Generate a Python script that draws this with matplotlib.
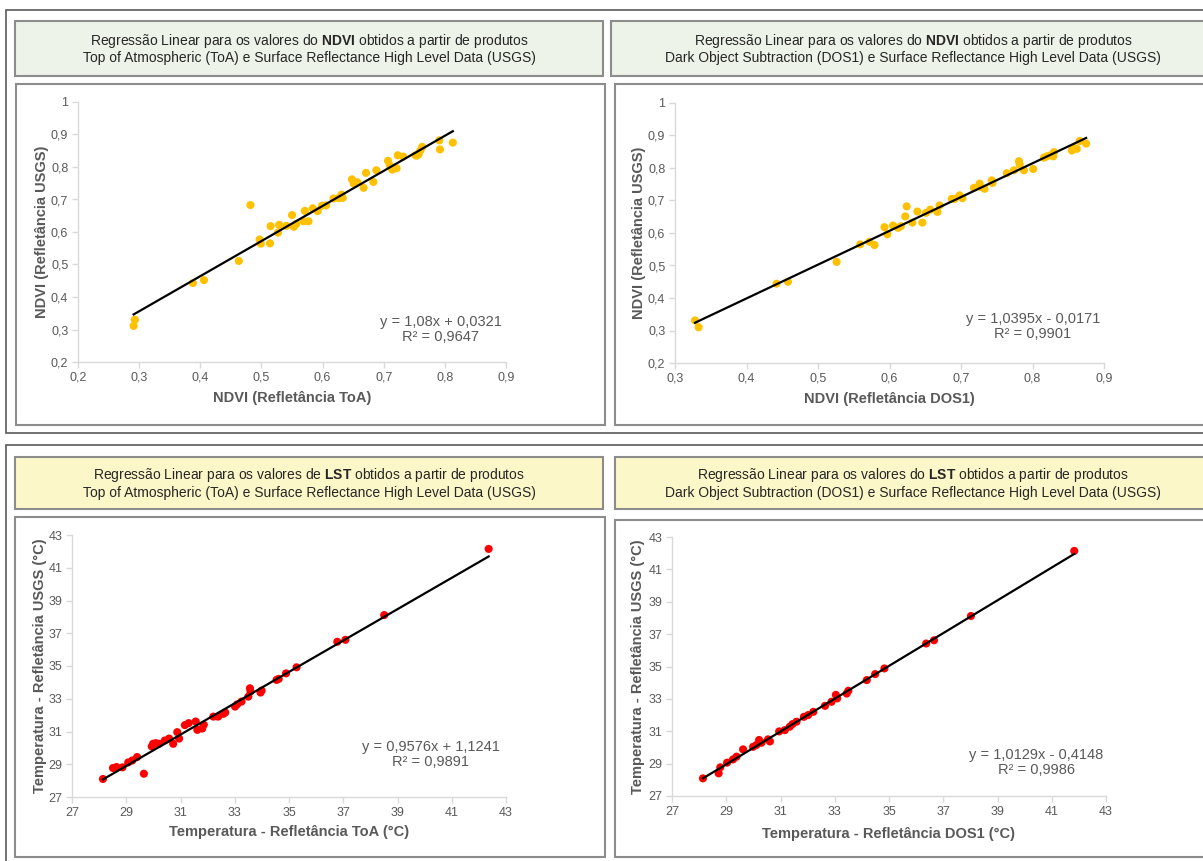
import numpy as np
import matplotlib
matplotlib.use('Agg')
import matplotlib.pyplot as plt
from matplotlib.patches import Rectangle
from matplotlib.ticker import FuncFormatter
from matplotlib import font_manager

# DATA
## NDVI ToA x USGS
ndvi_toa_x = [0.291, 0.293, 0.388, 0.406, 0.463, 0.482, 0.497, 0.499, 0.514, 0.515,
              0.527, 0.529, 0.541, 0.550, 0.553, 0.557, 0.569, 0.571, 0.577, 0.584,
              0.592, 0.599, 0.606, 0.618, 0.626, 0.631, 0.633, 0.648, 0.651, 0.657,
              0.667, 0.671, 0.683, 0.688, 0.707, 0.710, 0.714, 0.721, 0.723, 0.732,
              0.752, 0.754, 0.757, 0.760, 0.763, 0.791, 0.792, 0.813]
ndvi_toa_y = [0.311, 0.330, 0.443, 0.452, 0.511, 0.683, 0.577, 0.564, 0.565, 0.618,
              0.598, 0.622, 0.619, 0.652, 0.616, 0.625, 0.633, 0.665, 0.633, 0.673,
              0.664, 0.681, 0.682, 0.703, 0.704, 0.715, 0.705, 0.762, 0.749, 0.753,
              0.736, 0.782, 0.754, 0.790, 0.819, 0.805, 0.792, 0.796, 0.836, 0.832,
              0.836, 0.835, 0.839, 0.851, 0.862, 0.882, 0.854, 0.875]
ndvi_toa_fit = (1.08, 0.0321)
ndvi_toa_eq = 'y = 1,08x + 0,0321\nR² = 0,9647'

## NDVI DOS1 x USGS
ndvi_dos_x = [0.328, 0.333, 0.442, 0.458, 0.526, 0.559, 0.572, 0.579, 0.593, 0.597,
              0.605, 0.612, 0.616, 0.622, 0.624, 0.632, 0.639, 0.646, 0.651, 0.657,
              0.667, 0.670, 0.687, 0.691, 0.698, 0.702, 0.718, 0.726, 0.727, 0.733,
              0.743, 0.744, 0.764, 0.774, 0.781, 0.782, 0.788, 0.801, 0.816, 0.820,
              0.825, 0.829, 0.830, 0.855, 0.858, 0.862, 0.866, 0.875]
ndvi_dos_y = [0.331, 0.310, 0.444, 0.450, 0.511, 0.565, 0.573, 0.563, 0.618, 0.596,
              0.623, 0.616, 0.621, 0.651, 0.682, 0.632, 0.666, 0.632, 0.662, 0.672,
              0.665, 0.685, 0.705, 0.705, 0.716, 0.707, 0.739, 0.752, 0.742, 0.736,
              0.762, 0.754, 0.784, 0.793, 0.821, 0.811, 0.793, 0.797, 0.832, 0.836,
              0.839, 0.836, 0.849, 0.854, 0.862, 0.859, 0.883, 0.875]
ndvi_dos_fit = (1.0395, -0.0171)
ndvi_dos_eq = 'y = 1,0395x - 0,0171\nR² = 0,9901'

## LST ToA x USGS
lst_toa_x = [28.14, 28.51, 28.64, 28.86, 29.07, 29.22, 29.40, 29.65, 29.94, 29.99,
             30.09, 30.21, 30.42, 30.58, 30.73, 30.88, 30.95, 31.16, 31.30, 31.56,
             31.62, 31.80, 31.86, 32.21, 32.39, 32.58, 32.65, 33.01, 33.09, 33.25,
             33.50, 33.56, 33.58, 33.95, 33.99, 34.54, 34.62, 34.89, 35.28, 36.78,
             37.08, 38.51, 42.36]
lst_toa_y = [28.10, 28.77, 28.83, 28.81, 29.11, 29.23, 29.44, 28.42, 30.09, 30.25,
             30.29, 30.25, 30.45, 30.57, 30.25, 30.96, 30.57, 31.39, 31.51, 31.61,
             31.10, 31.18, 31.41, 31.91, 31.91, 32.08, 32.16, 32.52, 32.66, 32.83,
             33.13, 33.64, 33.44, 33.38, 33.50, 34.15, 34.21, 34.55, 34.92, 36.48,
             36.60, 38.11, 42.15]
lst_toa_fit = (0.9576, 1.1241)
lst_toa_eq = 'y = 0,9576x + 1,1241\nR² = 0,9891'

## LST DOS1 x USGS
lst_dos_x = [28.14, 28.72, 28.78, 29.03, 29.25, 29.38, 29.62, 29.99, 30.11, 30.21,
             30.30, 30.54, 30.61, 30.95, 31.16, 31.34, 31.44, 31.59, 31.86, 32.02,
             32.21, 32.64, 32.88, 33.04, 33.09, 33.44, 33.50, 34.18, 34.49, 34.83,
             36.37, 36.66, 38.02, 41.83]
lst_dos_y = [28.09, 28.40, 28.77, 29.06, 29.26, 29.43, 29.88, 30.04, 30.15, 30.46,
             30.29, 30.50, 30.37, 30.99, 31.07, 31.28, 31.44, 31.59, 31.89, 32.00,
             32.20, 32.57, 32.82, 33.25, 33.03, 33.33, 33.50, 34.16, 34.53, 34.88,
             36.42, 36.62, 38.12, 42.14]
lst_dos_fit = (1.0129, -0.4148)
lst_dos_eq = 'y = 1,0129x - 0,4148\nR² = 0,9986'

## ticks
ndvi_ticks_y = [0.2, 0.3, 0.4, 0.5, 0.6, 0.7, 0.8, 0.9, 1.0]
ndvi_toa_ticks_x = [0.2, 0.3, 0.4, 0.5, 0.6, 0.7, 0.8, 0.9]
ndvi_dos_ticks_x = [0.3, 0.4, 0.5, 0.6, 0.7, 0.8, 0.9]
lst_ticks = [27, 29, 31, 33, 35, 37, 39, 41, 43]

# FONTS
names = set(f.name for f in font_manager.fontManager.ttflist)
narrow = 'Liberation Sans Narrow' if 'Liberation Sans Narrow' in names else 'Liberation Sans'
plt.rcParams['font.family'] = ['Liberation Sans', 'DejaVu Sans']
plt.rcParams['mathtext.fontset'] = 'custom'
plt.rcParams['mathtext.rm'] = 'Liberation Sans'
plt.rcParams['mathtext.bf'] = 'Liberation Sans:bold'

W, H = 1203, 861
fig = plt.figure(figsize=(W / 100, H / 100), dpi=100)
fig.patch.set_facecolor('white')

def box(x0, y0, x1, y1):
    return [x0 / W, 1 - y1 / H, (x1 - x0) / W, (y1 - y0) / H]

def rect(x0, y0, x1, y1, fc, ec, lw, z):
    r = Rectangle((x0 / W, 1 - y1 / H), (x1 - x0) / W, (y1 - y0) / H,
                  transform=fig.transFigure, facecolor=fc, edgecolor=ec, linewidth=lw, zorder=z)
    fig.add_artist(r)

# FRAMES
rect(6, 10, 1215, 433, 'white', '#5a5a5a', 1.2, -5)
rect(6, 445, 1215, 868, 'white', '#5a5a5a', 1.2, -5)
green = '#edf3e8'
yellow = '#fcf7c8'
rect(15, 21, 603, 76, green, '#8c8c8c', 1.5, -4)
rect(611, 21, 1215, 76, green, '#8c8c8c', 1.5, -4)
rect(16, 84, 605, 425, 'white', '#8c8c8c', 1.5, -4)
rect(615, 84, 1215, 425, 'white', '#8c8c8c', 1.5, -4)
rect(15, 457, 603, 509, yellow, '#8c8c8c', 1.5, -4)
rect(615, 457, 1215, 509, yellow, '#8c8c8c', 1.5, -4)
rect(15, 517, 605, 857, 'white', '#8c8c8c', 1.5, -4)
rect(615, 520, 1215, 857, 'white', '#8c8c8c', 1.5, -4)

# TITLES
titles = [
    (309, 48.5, 'Regressão Linear para os valores do $\\mathbf{NDVI}$ obtidos a partir de produtos\nTop of Atmospheric (ToA) e Surface Reflectance High Level Data (USGS)'),
    (913, 48.5, 'Regressão Linear para os valores do $\\mathbf{NDVI}$ obtidos a partir de produtos\nDark Object Subtraction (DOS1) e Surface Reflectance High Level Data (USGS)'),
    (309, 483, 'Regressão Linear para os valores de $\\mathbf{LST}$ obtidos a partir de produtos\nTop of Atmospheric (ToA) e Surface Reflectance High Level Data (USGS)'),
    (913, 483, 'Regressão Linear para os valores do $\\mathbf{LST}$ obtidos a partir de produtos\nDark Object Subtraction (DOS1) e Surface Reflectance High Level Data (USGS)'),
]
for tx, ty, t in titles:
    fig.text(tx / W, 1 - ty / H, t, ha='center', va='center', multialignment='center',
             fontsize=10, color='#262626', linespacing=1.15)

comma = FuncFormatter(lambda v, p: ('%g' % round(v, 2)).replace('.', ','))

def panel(pos, xs, ys, fit, eq, color, xlim, ylim, xt, yt, xlab, ylab, eqpos, ylabx, xlaby):
    ax = fig.add_axes(box(*pos))
    ax.set_facecolor('none')
    ax.set_xticks(xt)
    ax.set_yticks(yt)
    ax.set_xlim(xlim)
    ax.set_ylim(ylim)
    ax.xaxis.set_major_formatter(comma)
    ax.yaxis.set_major_formatter(comma)
    for s in ['top', 'right']:
        ax.spines[s].set_visible(False)
    for s in ['left', 'bottom']:
        ax.spines[s].set_color('#d9d9d9')
        ax.spines[s].set_linewidth(1)
    ax.tick_params(colors='#d9d9d9', labelcolor='#595959', labelsize=9, length=4, width=1, pad=3)
    for lab in ax.get_xticklabels() + ax.get_yticklabels():
        lab.set_family(narrow)
    ax.scatter(xs, ys, s=34, color=color, edgecolors='none', zorder=3, clip_on=False)
    xl = np.array([min(xs), max(xs)])
    ax.plot(xl, fit[0] * xl + fit[1], color='black', lw=1.6, zorder=4)
    ax.text(eqpos[0], eqpos[1], eq, transform=ax.transAxes, ha='center', va='center',
            multialignment='center', fontsize=10.5, color='#595959', family=narrow, linespacing=1.1)
    ax.text(0.5, xlaby, xlab, transform=ax.transAxes, ha='center', va='center',
            fontsize=10.5, color='#595959', fontweight='bold', family=narrow)
    ax.text(ylabx, 0.5, ylab, transform=ax.transAxes, ha='center', va='center', rotation=90,
            fontsize=10.5, color='#595959', fontweight='bold', family=narrow)
    return ax

panel((78, 102, 506, 362), ndvi_toa_x, ndvi_toa_y, ndvi_toa_fit, ndvi_toa_eq, '#ffc000',
      (0.2, 0.9), (0.2, 1.0), ndvi_toa_ticks_x, ndvi_ticks_y,
      'NDVI (Refletância ToA)', 'NDVI (Refletância USGS)',
      (0.848, 0.125), -0.085, -0.138)
panel((675, 103, 1104, 363), ndvi_dos_x, ndvi_dos_y, ndvi_dos_fit, ndvi_dos_eq, '#ffc000',
      (0.3, 0.9), (0.2, 1.0), ndvi_dos_ticks_x, ndvi_ticks_y,
      'NDVI (Refletância DOS1)', 'NDVI (Refletância USGS)',
      (0.834, 0.142), -0.085, -0.138)
panel((72, 535, 506, 797), lst_toa_x, lst_toa_y, lst_toa_fit, lst_toa_eq, '#ff0000',
      (27, 43), (27, 43), lst_ticks, lst_ticks,
      'Temperatura - Refletância ToA (°C)', 'Temperatura - Refletância USGS (°C)',
      (0.827, 0.162), -0.073, -0.134)
panel((672, 537, 1106, 796), lst_dos_x, lst_dos_y, lst_dos_fit, lst_dos_eq, '#ff0000',
      (27, 43), (27, 43), lst_ticks, lst_ticks,
      'Temperatura - Refletância DOS1 (°C)', 'Temperatura - Refletância USGS (°C)',
      (0.839, 0.131), -0.078, -0.147)

fig.savefig('out.png', dpi=100)
